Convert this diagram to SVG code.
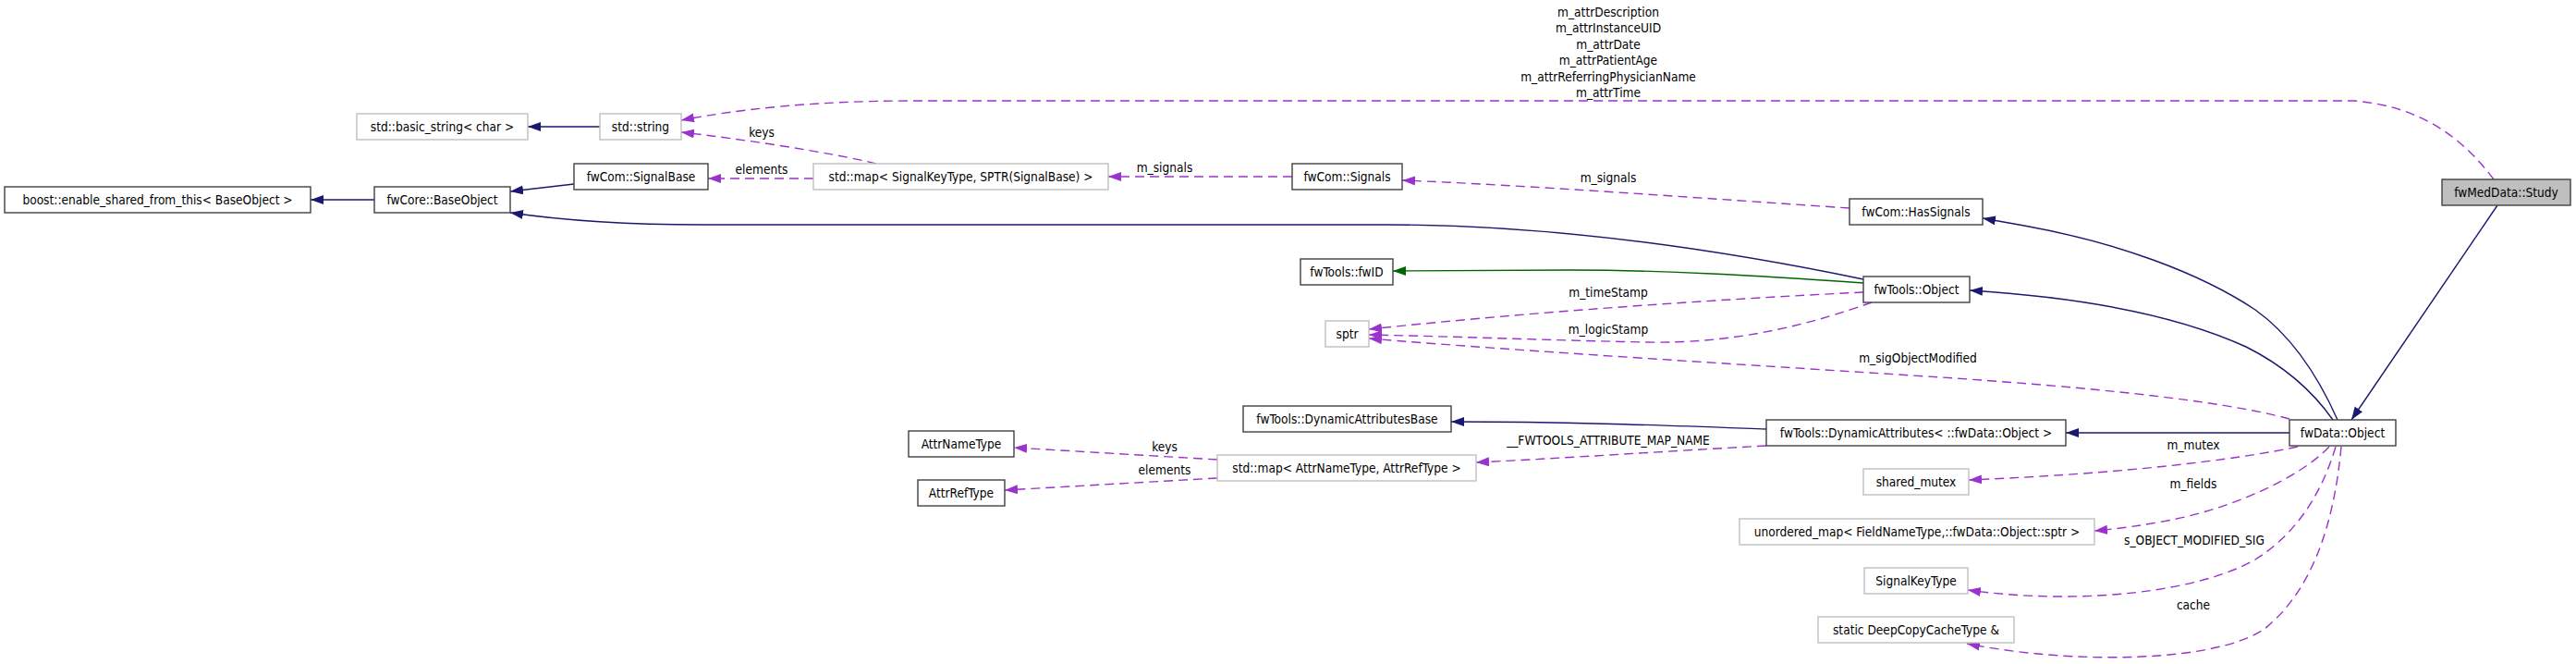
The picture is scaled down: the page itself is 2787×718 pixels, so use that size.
<svg xmlns="http://www.w3.org/2000/svg" width="2787" height="718" viewBox="0 0 2787 718">
<style>
text{font-family:"DejaVu Sans Condensed","DejaVu Sans",sans-serif;font-size:13.6px;fill:#000;text-anchor:middle}
.n rect{fill:#fff;stroke:#404040;stroke-width:1.4}
.u rect{fill:#fff;stroke:#bfbfbf;stroke-width:1.4}
.root rect{fill:#bfbfbf;stroke:#404040;stroke-width:1.4}
.inh{fill:none;stroke:#191970;stroke-width:1.4;marker-end:url(#ai)}
.grn{fill:none;stroke:#006400;stroke-width:1.4;marker-end:url(#ag)}
.use{fill:none;stroke:#9a32cd;stroke-width:1.4;stroke-dasharray:10,6;marker-end:url(#au)}
</style>
<defs>
<marker id="ai" markerUnits="userSpaceOnUse" markerWidth="15" markerHeight="11" refX="14" refY="5" orient="auto"><path d="M0,0 L14,5 L0,10 Z" fill="#191970"/></marker>
<marker id="ag" markerUnits="userSpaceOnUse" markerWidth="15" markerHeight="11" refX="14" refY="5" orient="auto"><path d="M0,0 L14,5 L0,10 Z" fill="#006400"/></marker>
<marker id="au" markerUnits="userSpaceOnUse" markerWidth="15" markerHeight="11" refX="14" refY="5" orient="auto"><path d="M0,0 L14,5 L0,10 Z" fill="#9a32cd"/></marker>
</defs>
<rect width="2787" height="718" fill="#fff"/>
<g id="connectors">
<path class="inh" d="M2702,222 L2544,454"/>
<path class="inh" d="M2529,454 C2505,400 2475,360 2440,335 C2380,295 2290,262 2190,244 L2145,236"/>
<path class="inh" d="M2524,454 C2500,420 2470,395 2430,375 C2360,343 2260,322 2131,314"/>
<path class="inh" d="M2477,468 L2235,468"/>
<path class="inh" d="M2016,302 C1900,278 1700,243 1500,243 L760,243 C660,243 600,237 552,230"/>
<path class="grn" d="M2016,306 C1900,298 1800,292 1700,292 L1507,293"/>
<path class="inh" d="M1911,464 C1800,460 1700,456 1570,456"/>
<path class="inh" d="M621,199 L552,207"/>
<path class="inh" d="M405,216 L336,216"/>
<path class="inh" d="M649,137 L571,137"/>
<path class="use" d="M2698,194 C2665,150 2620,115 2547,109 L990,109 C880,109 800,118 737,130"/>
<path class="use" d="M948,177 C900,165 800,150 737,143"/>
<path class="use" d="M880,193 L766,193"/>
<path class="use" d="M1398,191 L1199,191"/>
<path class="use" d="M2001,225 C1850,215 1650,200 1517,195"/>
<path class="use" d="M2016,316 C1850,324 1650,338 1481,356"/>
<path class="use" d="M2025,327 C1960,350 1880,372 1780,370 C1680,368 1580,364 1481,362"/>
<path class="use" d="M2477,453 C2400,432 2250,418 2100,408 C1900,395 1650,380 1481,366"/>
<path class="use" d="M1911,482 C1800,488 1700,495 1597,500"/>
<path class="use" d="M1317,497 L1097,484"/>
<path class="use" d="M1317,517 L1087,530"/>
<path class="use" d="M2486,483 C2420,497 2300,512 2130,519"/>
<path class="use" d="M2520,483 C2490,515 2420,548 2350,562 C2320,568 2290,572 2266,574"/>
<path class="use" d="M2527,483 C2510,540 2480,580 2440,605 C2380,640 2250,655 2129,638"/>
<path class="use" d="M2533,483 C2525,570 2500,640 2450,680 C2400,715 2250,720 2128,696"/>
<text x="1740" y="18">m_attrDescription</text>
<text x="1740" y="35.4">m_attrInstanceUID</text>
<text x="1740" y="52.8">m_attrDate</text>
<text x="1740" y="70.2">m_attrPatientAge</text>
<text x="1740" y="87.6">m_attrReferringPhysicianName</text>
<text x="1740" y="105">m_attrTime</text>
<text x="824" y="148">keys</text>
<text x="824" y="188">elements</text>
<text x="1260" y="186">m_signals</text>
<text x="1740" y="197">m_signals</text>
<text x="1740" y="321">m_timeStamp</text>
<text x="1740" y="361">m_logicStamp</text>
<text x="2075" y="392">m_sigObjectModified</text>
<text x="1740" y="481">__FWTOOLS_ATTRIBUTE_MAP_NAME</text>
<text x="1260" y="488">keys</text>
<text x="1260" y="513">elements</text>
<text x="2373" y="486">m_mutex</text>
<text x="2373" y="528">m_fields</text>
<text x="2374" y="589">s_OBJECT_MODIFIED_SIG</text>
<text x="2373" y="659">cache</text>
</g>
<g id="study" class="root"><rect x="2642" y="194" width="139" height="28"/><text x="2711.5" y="213">fwMedData::Study</text></g>
<g id="fwDataObject" class="n"><rect x="2477" y="454" width="115" height="28"/><text x="2534.5" y="473">fwData::Object</text></g>
<g id="hasSignals" class="n"><rect x="2001" y="215" width="144" height="28"/><text x="2073" y="234">fwCom::HasSignals</text></g>
<g id="fwToolsObject" class="n"><rect x="2016" y="299" width="115" height="28"/><text x="2073.5" y="318">fwTools::Object</text></g>
<g id="dynAttr" class="n"><rect x="1911" y="454" width="324" height="28"/><text x="2073" y="473">fwTools::DynamicAttributes&lt; ::fwData::Object &gt;</text></g>
<g id="sharedMutex" class="u"><rect x="2016" y="507" width="114" height="28"/><text x="2073" y="526">shared_mutex</text></g>
<g id="unorderedMap" class="u"><rect x="1882" y="561" width="384" height="28"/><text x="2074" y="580">unordered_map&lt; FieldNameType,::fwData::Object::sptr &gt;</text></g>
<g id="signalKeyType" class="u"><rect x="2017" y="614" width="112" height="28"/><text x="2073" y="633">SignalKeyType</text></g>
<g id="deepCopy" class="u"><rect x="1967" y="667" width="212" height="28"/><text x="2073" y="686">static DeepCopyCacheType &amp;</text></g>
<g id="fwID" class="n"><rect x="1407" y="280" width="100" height="28"/><text x="1457" y="299">fwTools::fwID</text></g>
<g id="sptr" class="u"><rect x="1434" y="347" width="47" height="28"/><text x="1457.5" y="366">sptr</text></g>
<g id="dynAttrBase" class="n"><rect x="1345" y="439" width="225" height="28"/><text x="1457.5" y="458">fwTools::DynamicAttributesBase</text></g>
<g id="attrMap" class="u"><rect x="1317" y="492" width="280" height="28"/><text x="1457" y="511">std::map&lt; AttrNameType, AttrRefType &gt;</text></g>
<g id="attrNameType" class="n"><rect x="983" y="466" width="114" height="28"/><text x="1040" y="485">AttrNameType</text></g>
<g id="attrRefType" class="n"><rect x="993" y="519" width="94" height="28"/><text x="1040" y="538">AttrRefType</text></g>
<g id="signals" class="n"><rect x="1398" y="177" width="119" height="28"/><text x="1457.5" y="196">fwCom::Signals</text></g>
<g id="signalMap" class="u"><rect x="880" y="177" width="319" height="28"/><text x="1039.5" y="196">std::map&lt; SignalKeyType, SPTR(SignalBase) &gt;</text></g>
<g id="signalBase" class="n"><rect x="621" y="177" width="145" height="28"/><text x="693.5" y="196">fwCom::SignalBase</text></g>
<g id="stdString" class="u"><rect x="649" y="123" width="88" height="28"/><text x="693" y="142">std::string</text></g>
<g id="basicString" class="u"><rect x="386" y="123" width="185" height="28"/><text x="478.5" y="142">std::basic_string&lt; char &gt;</text></g>
<g id="baseObject" class="n"><rect x="405" y="202" width="147" height="28"/><text x="478.5" y="221">fwCore::BaseObject</text></g>
<g id="boost" class="n"><rect x="5" y="202" width="331" height="28"/><text x="170.5" y="221">boost::enable_shared_from_this&lt; BaseObject &gt;</text></g>
</svg>
